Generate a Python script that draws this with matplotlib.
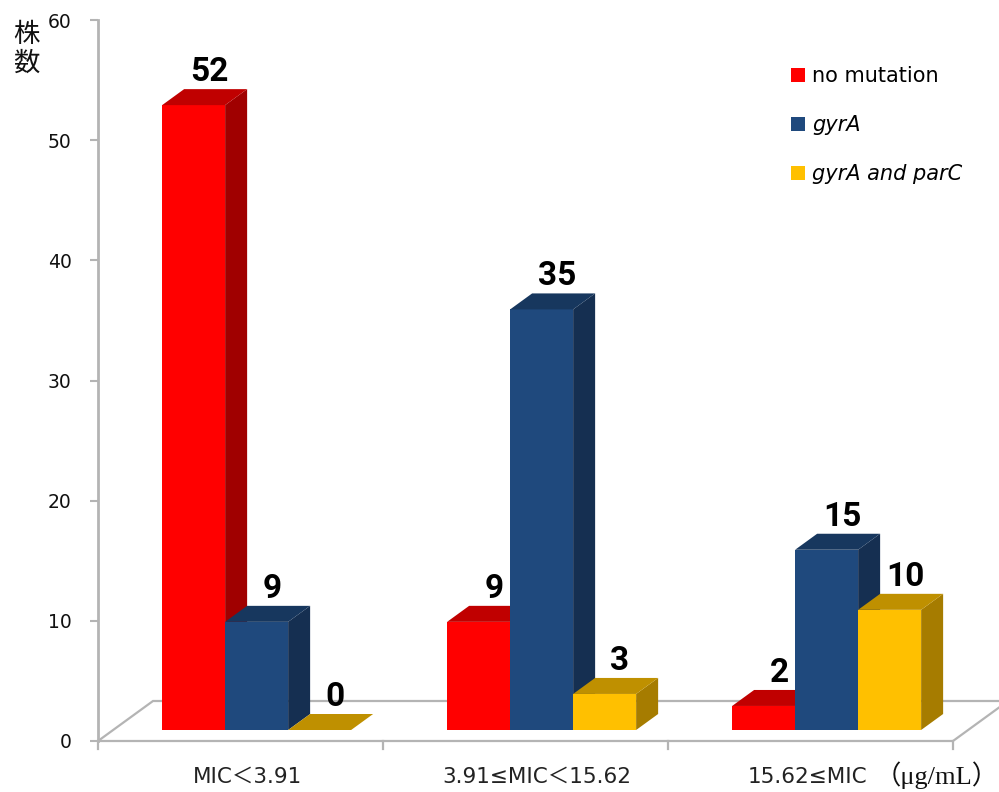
import matplotlib
matplotlib.use('Agg')
import matplotlib.pyplot as plt
from matplotlib.patches import Polygon, Patch

plt.rcParams['font.family'] = ['DejaVu Sans', 'Noto Sans CJK JP']

# --- data ---
categories = ['MIC＜3.91', '3.91≤MIC＜15.62', '15.62≤MIC']
series_names = ['no mutation', 'gyrA', 'gyrA and parC']
no_mutation = [52, 9, 2]
gyrA = [9, 35, 15]
gyrA_parC = [0, 3, 10]
y_ticks = [0, 10, 20, 30, 40, 50, 60]

series = [no_mutation, gyrA, gyrA_parC]
# front / top / side shades for the pseudo-3D columns
shades = [
    ('#FF0000', '#C00000', '#A00000'),
    ('#1F497D', '#17375E', '#152F51'),
    ('#FFC000', '#BF9000', '#A67C00'),
]

W, H, DPI = 999, 792, 100
fig = plt.figure(figsize=(W / DPI, H / DPI), dpi=DPI)
ax = fig.add_axes([98 / W, 51 / H, (953 - 98) / W, 721 / H])
ax.set_xlim(-0.5, 2.5)
ax.set_ylim(0, 60)

# oblique depth: full floor depth shifts right/up by these amounts (data units)
px_x = (953 - 98) / 3.0
px_y = 721 / 60.0
DX = 55 / px_x
DY = 40 / px_y
z0, z1 = 0.275, 0.675
bw = 63 / px_x
shift = 1 / px_x

gray = '#B4B4B4'

# floor
floor = Polygon([(-0.5, 0), (2.5, 0), (2.5 + DX, DY), (-0.5 + DX, DY)],
                closed=True, facecolor='white', edgecolor=gray, lw=1.6,
                clip_on=False, zorder=1)
ax.add_patch(floor)
for xs in [-0.5, 0.5, 1.5, 2.5]:
    ax.plot([xs, xs], [0, -8 / px_y], color=gray, lw=1.6, clip_on=False, zorder=1)


def draw_bar(x_left, value, cols):
    front, top, side = cols
    ox0, oy0 = z0 * DX, z0 * DY
    ox1, oy1 = z1 * DX, z1 * DY
    xl, xr = x_left + ox0, x_left + bw + ox0
    yb, yt = oy0, oy0 + value
    dx, dy = ox1 - ox0, oy1 - oy0
    ax.add_patch(Polygon([(xr, yb), (xr + dx, yb + dy), (xr + dx, yt + dy), (xr, yt)],
                         facecolor=side, edgecolor='none', clip_on=False, zorder=3))
    ax.add_patch(Polygon([(xl, yb), (xr, yb), (xr, yt), (xl, yt)],
                         facecolor=front, edgecolor='none', clip_on=False, zorder=3))
    ax.add_patch(Polygon([(xl, yt), (xr, yt), (xr + dx, yt + dy), (xl + dx, yt + dy)],
                         facecolor=top, edgecolor='none', clip_on=False, zorder=3))
    # value label above the top face
    ax.text((xl + xr) / 2 + dx * 0.7, yt + dy + 8 / px_y, str(value),
            ha='center', va='baseline', fontsize=24, fontweight='bold',
            family='Roboto', color='black', zorder=5, clip_on=False)


for i in range(len(categories)):
    for j, vals in enumerate(series):
        x_left = i - 1.5 * bw + j * bw + shift
        draw_bar(x_left, vals[i], shades[j])

# axis styling
for s in ['top', 'right', 'bottom']:
    ax.spines[s].set_visible(False)
ax.spines['left'].set_color(gray)
ax.spines['left'].set_linewidth(2)
ax.set_yticks(y_ticks)
ax.tick_params(axis='y', length=6, width=1.5, color=gray, pad=13,
               labelsize=13.5, labelcolor='#111111')
ax.set_xticks([])

label_nudge = [7, 11, -3]
for i, lab in enumerate(categories):
    ax.text(i + label_nudge[i] / px_x, -36 / px_y, lab, ha='center', va='center',
            fontsize=15.5, color='#222222', clip_on=False)
ax.text(2.5 - 16 / px_x, -34 / px_y, '（μg/mL）', ha='center', va='center',
        fontsize=19, family=['Liberation Serif', 'Noto Sans CJK JP'],
        color='#111111', clip_on=False)

fig.text(26 / W, 1 - 49 / H, '株\n数', ha='center', va='center', fontsize=19,
         family='Noto Sans CJK JP', linespacing=1.05, color='#111111')

handles = [Patch(facecolor=shades[k][0], edgecolor='none') for k in range(3)]
leg = fig.legend(handles, series_names, loc='upper left',
                 bbox_to_anchor=(791 / W, 1 - 66 / H), frameon=False,
                 fontsize=15, handlelength=0.65, handleheight=0.65,
                 handletextpad=0.35, labelspacing=1.4, borderpad=0,
                 borderaxespad=0)
for t in leg.get_texts()[1:]:
    t.set_style('italic')

fig.savefig('out.png', dpi=DPI)
